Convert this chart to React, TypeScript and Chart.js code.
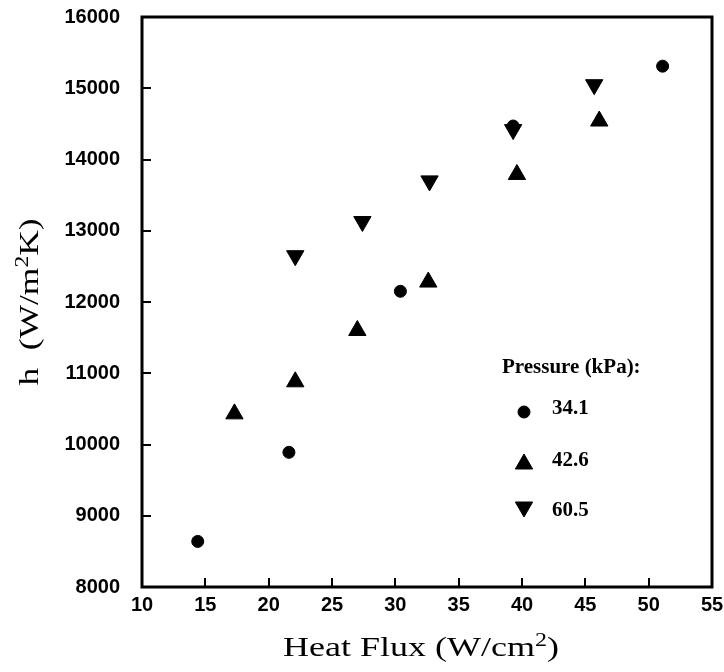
import React, { useEffect, useRef } from 'react';
import { Chart, registerables } from 'chart.js';

Chart.register(...registerables);

// ---------- data ----------
const xTickValues = [10, 15, 20, 25, 30, 35, 40, 45, 50, 55];
const yTickValues = [8000, 9000, 10000, 11000, 12000, 13000, 14000, 15000, 16000];

const seriesLabels = ['34.1', '42.6', '60.5'];

const heatFlux341 = [14.4, 21.6, 30.4, 39.3, 51.1];
const htc341 = [8640, 9890, 12150, 14470, 15310];

const heatFlux426 = [17.3, 22.1, 27.0, 32.6, 39.6, 46.1];
const htc426 = [10430, 10880, 11600, 12280, 13790, 14540];

const heatFlux605 = [22.1, 27.4, 32.7, 39.3, 45.7];
const htc605 = [12650, 13130, 13700, 14420, 15050];

const legendTitle = 'Pressure (kPa):';
const xTitleParts = [
  { t: 'Heat Flux (W/cm', sup: false },
  { t: '2', sup: true },
  { t: ')', sup: false },
];
const yTitleParts = [
  { t: 'h  (W/m', sup: false },
  { t: '2', sup: true },
  { t: 'K)', sup: false },
];

const zip = (xs: number[], ys: number[]) => xs.map((x, i) => ({ x, y: ys[i] }));

// ---------- drawing helpers ----------
const SERIF = '"Liberation Serif", "Times New Roman", serif';
const SANS = '"Liberation Sans", Arial, sans-serif';

function drawMarker(ctx: CanvasRenderingContext2D, style: string, rotation: number, r: number, x: number, y: number) {
  ctx.save();
  ctx.fillStyle = '#000';
  ctx.strokeStyle = '#000';
  ctx.lineWidth = 1;
  ctx.beginPath();
  if (style === 'circle') {
    ctx.arc(x, y, r, 0, Math.PI * 2);
  } else {
    let rad = (rotation * Math.PI) / 180;
    for (let k = 0; k < 3; k++) {
      const px = x + Math.sin(rad) * r;
      const py = y - Math.cos(rad) * r;
      if (k === 0) ctx.moveTo(px, py);
      else ctx.lineTo(px, py);
      rad += (2 * Math.PI) / 3;
    }
    ctx.closePath();
  }
  ctx.fill();
  ctx.stroke();
  ctx.restore();
}

function drawRich(
  ctx: CanvasRenderingContext2D,
  parts: { t: string; sup: boolean }[],
  size: number,
  targetWidth: number
) {
  const supSize = Math.round(size * 0.68);
  const widths = parts.map((p) => {
    ctx.font = `${p.sup ? supSize : size}px ${SERIF}`;
    return ctx.measureText(p.t).width;
  });
  const natural = widths.reduce((a, b) => a + b, 0);
  const sx = targetWidth / natural;
  ctx.scale(sx, 1);
  let cx = -natural / 2;
  ctx.textBaseline = 'alphabetic';
  ctx.textAlign = 'left';
  ctx.fillStyle = '#000';
  parts.forEach((p, i) => {
    ctx.font = `${p.sup ? supSize : size}px ${SERIF}`;
    ctx.fillText(p.t, cx, p.sup ? -size * 0.36 : 0);
    cx += widths[i];
  });
}

const decorPlugin = {
  id: 'decor',
  afterDraw(chart: any) {
    const ctx: CanvasRenderingContext2D = chart.ctx;
    const { left, right, top, bottom } = chart.chartArea;
    const xs = chart.scales.x;
    const ys = chart.scales.y;

    // frame
    ctx.save();
    ctx.strokeStyle = '#000';
    ctx.lineWidth = 3;
    ctx.strokeRect(left, top, right - left, bottom - top);

    // inward tick marks
    ctx.lineWidth = 2;
    ctx.beginPath();
    xs.ticks.forEach((t: any) => {
      if (t.value === xs.min || t.value === xs.max) return;
      const px = Math.round(xs.getPixelForValue(t.value));
      ctx.moveTo(px, bottom);
      ctx.lineTo(px, bottom - 9);
    });
    ys.ticks.forEach((t: any) => {
      if (t.value === ys.min || t.value === ys.max) return;
      const py = Math.round(ys.getPixelForValue(t.value));
      ctx.moveTo(left, py);
      ctx.lineTo(left + 9, py);
    });
    ctx.stroke();
    ctx.restore();

    // x-axis title
    ctx.save();
    ctx.translate((left + right) / 2 - 6, 656);
    drawRich(ctx, xTitleParts, 27, 276);
    ctx.restore();

    // y-axis title
    ctx.save();
    ctx.translate(38, (top + bottom) / 2);
    ctx.rotate(-Math.PI / 2);
    drawRich(ctx, yTitleParts, 27, 167);
    ctx.restore();

    // legend inside plot
    ctx.save();
    ctx.fillStyle = '#000';
    ctx.textAlign = 'left';
    ctx.textBaseline = 'alphabetic';
    ctx.font = `bold 21px ${SERIF}`;
    ctx.fillText(legendTitle, 502, 373);
    const rowBase = [414, 466, 516];
    const rowMark = [412, 464, 507];
    chart.data.datasets.forEach((ds: any, i: number) => {
      drawMarker(ctx, ds.pointStyle, ds.rotation || 0, ds.pointRadius, 524, rowMark[i]);
      ctx.font = `bold 21px ${SERIF}`;
      ctx.fillText(ds.label, 552, rowBase[i]);
    });
    ctx.restore();
  },
};

export default function App() {
  const canvasRef = useRef<HTMLCanvasElement | null>(null);

  useEffect(() => {
    document.body.style.margin = '0';
    const canvas = canvasRef.current;
    if (!canvas) return;

    const tickFont = { family: SANS, size: 20, weight: 'bold' as const };

    const chart = new Chart(canvas, {
      type: 'scatter',
      data: {
        datasets: [
          {
            label: seriesLabels[0],
            data: zip(heatFlux341, htc341),
            pointStyle: 'circle',
            pointRadius: 6,
            backgroundColor: '#000',
            borderColor: '#000',
            borderWidth: 1,
          },
          {
            label: seriesLabels[1],
            data: zip(heatFlux426, htc426),
            pointStyle: 'triangle',
            pointRadius: 10,
            backgroundColor: '#000',
            borderColor: '#000',
            borderWidth: 1,
          },
          {
            label: seriesLabels[2],
            data: zip(heatFlux605, htc605),
            pointStyle: 'triangle',
            rotation: 180,
            pointRadius: 10,
            backgroundColor: '#000',
            borderColor: '#000',
            borderWidth: 1,
          } as any,
        ],
      },
      options: {
        animation: false,
        responsive: false,
        events: [],
        layout: { padding: { top: 17, right: 12, left: 0, bottom: 0 } },
        plugins: {
          legend: { display: false },
          tooltip: { enabled: false },
        },
        scales: {
          x: {
            type: 'linear',
            min: xTickValues[0],
            max: xTickValues[xTickValues.length - 1],
            afterBuildTicks: (s: any) => {
              s.ticks = xTickValues.map((v) => ({ value: v }));
            },
            afterFit: (s: any) => {
              s.height = 85;
              s.paddingLeft = 0;
              s.paddingRight = 0;
              s.paddingTop = 0;
              s.paddingBottom = 0;
            },
            grid: { display: false, drawTicks: false },
            border: { display: false },
            ticks: {
              padding: 6,
              color: '#000',
              font: tickFont,
              maxRotation: 0,
              autoSkip: false,
              callback: (v: any) => String(v),
            },
          },
          y: {
            type: 'linear',
            min: yTickValues[0],
            max: yTickValues[yTickValues.length - 1],
            afterBuildTicks: (s: any) => {
              s.ticks = yTickValues.map((v) => ({ value: v }));
            },
            afterFit: (s: any) => {
              s.width = 142;
              s.paddingLeft = 0;
              s.paddingRight = 0;
              s.paddingTop = 0;
              s.paddingBottom = 0;
            },
            grid: { display: false, drawTicks: false },
            border: { display: false },
            ticks: {
              padding: 22,
              color: '#000',
              font: tickFont,
              autoSkip: false,
              callback: (v: any) => String(v),
            },
          },
        },
      },
      plugins: [decorPlugin],
    });

    return () => chart.destroy();
  }, []);

  return (
    <div style={{ width: 724, height: 672, background: '#fff' }}>
      <canvas ref={canvasRef} width={724} height={672} style={{ display: 'block' }} />
    </div>
  );
}
